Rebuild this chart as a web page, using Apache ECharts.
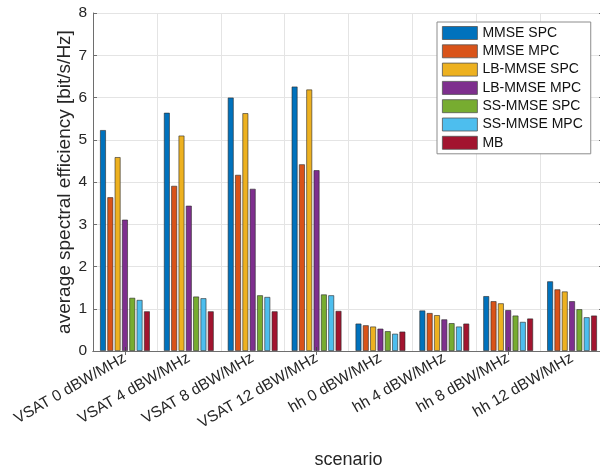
<!DOCTYPE html>
<html>
<head>
<meta charset="utf-8">
<script src="https://cdn.jsdelivr.net/npm/echarts@6/dist/echarts.min.js"></script>
<style>
  html, body { margin: 0; padding: 0; background: #ffffff; }
  #chart { width: 600px; height: 471px; }
</style>
</head>
<body>
<div id="chart"></div>
<script>
// Scenarios (x categories)
const scenarios = [
  'VSAT 0 dBW/MHz', 'VSAT 4 dBW/MHz', 'VSAT 8 dBW/MHz', 'VSAT 12 dBW/MHz',
  'hh 0 dBW/MHz', 'hh 4 dBW/MHz', 'hh 8 dBW/MHz', 'hh 12 dBW/MHz'
];

// Average spectral efficiency [bit/s/Hz] per receiver
const mmseSpc   = [5.23, 5.64, 6.00, 6.26, 0.65, 0.96, 1.30, 1.65];
const mmseMpc   = [3.64, 3.91, 4.17, 4.42, 0.61, 0.90, 1.18, 1.46];
const lbMmseSpc = [4.59, 5.10, 5.63, 6.19, 0.58, 0.85, 1.13, 1.41];
const lbMmseMpc = [3.11, 3.44, 3.84, 4.28, 0.53, 0.75, 0.97, 1.18];
const ssMmseSpc = [1.26, 1.29, 1.32, 1.34, 0.47, 0.66, 0.84, 0.99];
const ssMmseMpc = [1.21, 1.25, 1.28, 1.32, 0.41, 0.58, 0.69, 0.80];
const mb        = [0.94, 0.94, 0.94, 0.95, 0.46, 0.65, 0.77, 0.84];

const seriesNames = ['MMSE SPC', 'MMSE MPC', 'LB-MMSE SPC', 'LB-MMSE MPC', 'SS-MMSE SPC', 'SS-MMSE MPC', 'MB'];
const seriesData = [mmseSpc, mmseMpc, lbMmseSpc, lbMmseMpc, ssMmseSpc, ssMmseMpc, mb];
const colors = ['#0072BD', '#D95319', '#EDB120', '#7E2F8E', '#77AC30', '#4DBEEE', '#A2142F'];

// Y axis ticks
const yMin = 0, yMax = 8, yStep = 1;

const FONT = '"Liberation Sans", Arial, Helvetica, sans-serif';
const AXIS_COLOR = '#6e6e6e';
const TEXT_COLOR = '#262626';
const GRID_COLOR = '#e4e4e4';

const chart = echarts.init(document.getElementById('chart'), null, { renderer: 'canvas' });

const option = {
  backgroundColor: '#ffffff',
  animation: false,
  textStyle: { fontFamily: FONT },
  grid: {
    left: 93, right: -4, top: 13, bottom: 120,
    containLabel: false,
    outerBoundsMode: 'none'
  },
  legend: {
    orient: 'vertical',
    left: 437,
    top: 22,
    padding: [4, 8, 4, 5],
    itemGap: 4.3,
    itemWidth: 35,
    itemHeight: 13,
    borderColor: '#8c8c8c',
    borderWidth: 1,
    backgroundColor: '#ffffff',
    icon: 'rect',
    itemStyle: { borderColor: '#555555', borderWidth: 0.8 },
    textStyle: { fontFamily: FONT, fontSize: 14, color: '#111111' },
    data: seriesNames
  },
  xAxis: [
    {
      type: 'category',
      data: scenarios,
      position: 'bottom',
      boundaryGap: true,
      axisLine: { lineStyle: { color: AXIS_COLOR, width: 1 } },
      axisTick: { show: false },
      splitLine: { show: true, lineStyle: { color: GRID_COLOR, width: 1 } },
      axisLabel: {
        rotate: 30, interval: 0, margin: 6,
        fontFamily: FONT, fontSize: 15.5, color: TEXT_COLOR
      },
      name: 'scenario',
      nameLocation: 'middle',
      nameGap: 100,
      nameMoveOverlap: false,
      nameTextStyle: { fontFamily: FONT, fontSize: 18, color: TEXT_COLOR }
    },
    {
      // top edge of the box with inward ticks
      type: 'category',
      data: scenarios,
      position: 'top',
      boundaryGap: true,
      axisLine: { show: true, lineStyle: { color: AXIS_COLOR, width: 1 } },
      axisTick: { show: true, inside: true, alignWithLabel: true, length: 4, lineStyle: { color: AXIS_COLOR } },
      axisLabel: { show: false },
      splitLine: { show: false },
      z: 10
    },
    {
      // inward ticks along the bottom, drawn above the bars
      type: 'category',
      data: scenarios,
      position: 'bottom',
      boundaryGap: true,
      axisLine: { show: false },
      axisTick: { show: true, inside: true, alignWithLabel: true, length: 4, lineStyle: { color: '#444444' } },
      axisLabel: { show: false },
      splitLine: { show: false },
      z: 10
    }
  ],
  yAxis: [
    {
      type: 'value',
      min: yMin, max: yMax, interval: yStep,
      position: 'left',
      axisLine: { show: true, lineStyle: { color: AXIS_COLOR, width: 1 } },
      axisTick: { show: true, inside: true, length: 4, lineStyle: { color: AXIS_COLOR } },
      splitLine: { show: true, lineStyle: { color: GRID_COLOR, width: 1 } },
      axisLabel: { margin: 6, fontFamily: FONT, fontSize: 15.5, color: TEXT_COLOR },
      name: 'average spectral efficiency [bit/s/Hz]',
      nameLocation: 'middle',
      nameGap: 19,
      nameMoveOverlap: false,
      nameRotate: 90,
      nameTextStyle: { fontFamily: FONT, fontSize: 19, color: TEXT_COLOR }
    },
    {
      // right edge of the box with inward ticks
      type: 'value',
      min: yMin, max: yMax, interval: yStep,
      position: 'right',
      axisLine: { show: true, lineStyle: { color: AXIS_COLOR, width: 1 } },
      axisTick: { show: true, inside: true, length: 5, lineStyle: { color: AXIS_COLOR } },
      splitLine: { show: false },
      axisLabel: { show: false },
      z: 10
    }
  ],
  series: seriesNames.map((name, i) => ({
    name: name,
    type: 'bar',
    xAxisIndex: 0,
    yAxisIndex: 0,
    data: seriesData[i],
    barWidth: 6,
    barGap: '22%',
    itemStyle: {
      color: colors[i],
      borderColor: 'rgba(40,40,40,0.75)',
      borderWidth: 0.8
    }
  }))
};

chart.setOption(option);
</script>
</body>
</html>
